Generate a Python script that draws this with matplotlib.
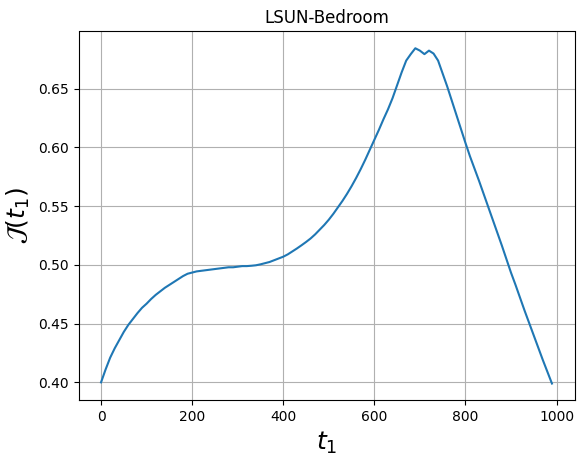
import matplotlib
matplotlib.use('Agg')
import matplotlib.pyplot as plt

# timesteps (every 10 steps) and measured J(t1)
t1 = list(range(0, 1000, 10))
J = [
    0.400, 0.411, 0.421, 0.429, 0.436, 0.443, 0.449, 0.454, 0.459, 0.4635,
    0.467, 0.471, 0.4745, 0.4775, 0.4805, 0.483, 0.4855, 0.488, 0.4905, 0.4925,
    0.4935, 0.4945, 0.495, 0.4955, 0.496, 0.4965, 0.497, 0.4975, 0.498, 0.498,
    0.4985, 0.499, 0.499, 0.4993, 0.4997, 0.5005, 0.5015, 0.5025, 0.504, 0.5055,
    0.507, 0.509, 0.5115, 0.514, 0.5167, 0.5195, 0.5225, 0.526, 0.530, 0.534,
    0.5385, 0.5435, 0.549, 0.5545, 0.5605, 0.567, 0.574, 0.5815, 0.5895, 0.598,
    0.6065, 0.615, 0.624, 0.6325, 0.642, 0.653, 0.664, 0.674, 0.6795, 0.6845,
    0.6825, 0.6795, 0.6825, 0.680, 0.674, 0.663, 0.652, 0.640, 0.628, 0.616,
    0.604, 0.5925, 0.582, 0.5715, 0.5605, 0.5495, 0.5385, 0.5275, 0.5165, 0.505,
    0.4935, 0.483, 0.472, 0.461, 0.4505, 0.440, 0.4295, 0.419, 0.409, 0.399,
]

fig = plt.figure(figsize=(5.85, 4.61), dpi=100)
ax = fig.add_axes([78.5 / 585, 1 - 400.3 / 461, 496 / 585, 368.8 / 461])
ax.plot(t1, J)
ax.grid(True)
ax.set_title("LSUN-Bedroom")
ax.set_xlabel(r"$t_1$", fontsize=18)
ax.set_ylabel(r"$\mathcal{J}(t_1)$", fontsize=18)

fig.savefig("out.png", dpi=100)
